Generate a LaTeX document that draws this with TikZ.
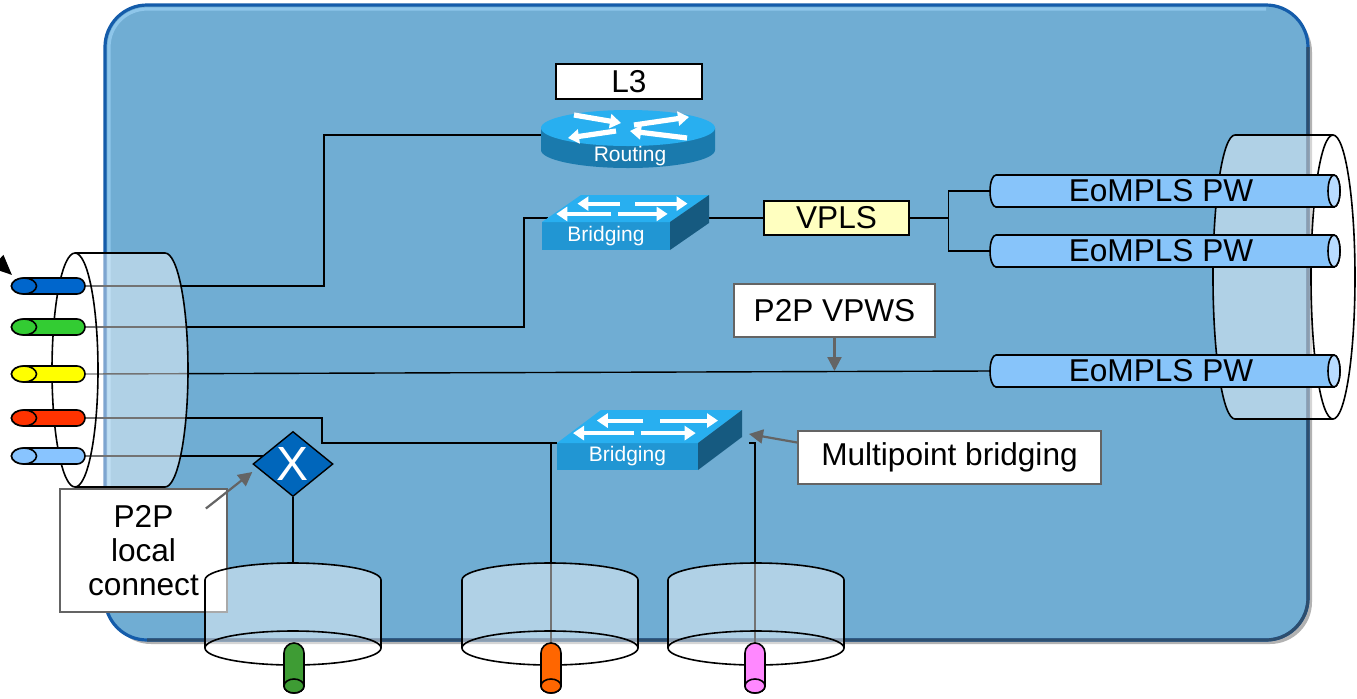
\documentclass[tikz,border=0pt]{standalone}
\usepackage{fontspec}
\setmainfont{Liberation Sans}
\usetikzlibrary{positioning, arrows.meta, shapes.geometric}

\definecolor{panel}{RGB}{112,173,211}
\definecolor{panelrim}{RGB}{20,92,170}
\definecolor{panelshade}{RGB}{45,78,110}
\definecolor{panelglow}{RGB}{150,205,240}
\definecolor{icontop}{RGB}{40,175,240}
\definecolor{iconfront}{RGB}{33,150,211}
\definecolor{iconside}{RGB}{22,90,128}
\definecolor{routerside}{RGB}{26,122,173}
\definecolor{pwblue}{RGB}{135,196,250}
\definecolor{pwcap}{RGB}{185,220,255}
\definecolor{vplsfill}{RGB}{255,255,192}
\definecolor{notegray}{RGB}{100,100,100}
\definecolor{xcfill}{RGB}{0,102,187}
\definecolor{portblue}{RGB}{0,102,204}
\definecolor{portgreen}{RGB}{51,204,51}
\definecolor{portyellow}{RGB}{255,255,0}
\definecolor{portred}{RGB}{255,51,0}
\definecolor{portlight}{RGB}{136,196,255}
\definecolor{dropgreen}{RGB}{62,156,52}
\definecolor{droporange}{RGB}{255,102,0}
\definecolor{droppink}{RGB}{255,136,255}

\pgfdeclarelayer{back}
\pgfdeclarelayer{wires}
\pgfdeclarelayer{glass}
\pgfsetlayers{back,wires,glass,main}

\tikzset{
	wire/.style={line width=0.7pt, draw=black},
	glass/.style={fill=white, fill opacity=0.45},
	rim/.style={draw=black, line width=0.8pt},
	tube/.style={draw=black, line width=0.8pt},
	labelbox/.style={
		rectangle,
		draw=black,
		line width=0.7pt,
		inner sep=0pt,
		align=center,
		font=\fontsize{15.8}{17}\selectfont
	},
	note/.style={
		labelbox,
		draw=notegray,
		line width=0.9pt,
		fill=white
	},
	pointer/.style={draw=notegray, line width=1.1pt, -{Triangle[length=7pt, width=7pt]}},
	iconlabel/.style={text=white, inner sep=0pt, font=\fontsize{10.5}{12}\selectfont},
	flowarrow/.style={draw=white, line width=2pt, -{Triangle[length=5.5pt, width=7pt]}},
	xconnect/.style={
		diamond,
		draw=black,
		line width=0.7pt,
		fill=xcfill,
		text=white,
		minimum width=40pt,
		minimum height=29pt,
		inner sep=0pt,
		font=\fontsize{24}{24}\selectfont
	}
}

\newcommand{\portpipe}[3]{% name, y, colour
	\draw[tube, fill=#3] (24,#2-8) -- (77,#2-8) arc[start angle=-90, end angle=90, radius=8]
		-- (24,#2+8) arc[start angle=90, end angle=270, x radius=12.5, y radius=8] -- cycle;
	\draw[tube, fill=#3] (24,#2) ellipse[x radius=12.5, y radius=8];
	\coordinate (#1-w) at (12,#2);
	\coordinate (#1-e) at (85,#2)
}
\newcommand{\pwpipe}[2]{% name, y
	\draw[tube, fill=pwblue] (996,#2-16) -- (1334,#2-16) arc[start angle=-90, end angle=90, x radius=6, y radius=16]
		-- (996,#2+16) arc[start angle=90, end angle=270, x radius=6, y radius=16] -- cycle;
	\draw[tube, fill=pwcap] (1334,#2) ellipse[x radius=6, y radius=16];
	\node[font=\fontsize{15.8}{17}\selectfont, inner sep=0pt] (#1) at (1161,#2) {EoMPLS PW};
	\coordinate (#1-w) at (990,#2)
}
\newcommand{\droppipe}[3]{% name, x, colour
	\draw[tube, fill=#3] (#2-10,686) -- (#2-10,653) arc[start angle=180, end angle=360, radius=10]
		-- (#2+10,686) arc[start angle=0, end angle=180, x radius=10, y radius=7] -- cycle;
	\draw[tube, fill=#3] (#2,686) ellipse[x radius=10, y radius=7];
	\coordinate (#1) at (#2,643)
}
\newcommand{\drum}[2]{% name, x centre
	\begin{pgfonlayer}{glass}
		\fill[glass] (#2-88,580) arc[start angle=180, end angle=360, x radius=88, y radius=17]
			-- (#2+88,648) arc[start angle=0, end angle=180, x radius=88, y radius=17] -- cycle;
		\draw[rim] (#2-88,648) -- (#2-88,580) arc[start angle=180, end angle=360, x radius=88, y radius=17] -- (#2+88,648);
		\draw[rim] (#2,648) ellipse[x radius=88, y radius=17];
	\end{pgfonlayer}
	\coordinate (#1) at (#2,563)
}
\newcommand{\switchicon}[7]{% name, front corner x, y, width, height, depth x, depth y
	\fill[iconfront] (#2,#3) rectangle ++(#4,#5);
	\fill[icontop] (#2,#3) -- ++(#4,0) -- ++(#6,-#7) -- ++(-#4,0) -- cycle;
	\fill[iconside] (#2+#4,#3) -- ++(#6,-#7) -- ++(0,#5) -- ++(-#6,#7) -- cycle;
	\foreach \ua/\ub/\v in {0.40/0.07/0.68, 0.52/0.93/0.68, 0.45/0.02/0.30, 0.50/0.89/0.30}
		\draw[flowarrow] (#2+\ua*#4+\v*#6, #3-\v*#7) -- (#2+\ub*#4+\v*#6, #3-\v*#7);
	\node[iconlabel] (#1) at (#2+#4/2, #3+#5/2) {Bridging}
}

\begin{document}
\begin{tikzpicture}[x=0.5pt, y=-0.5pt]
	\useasboundingbox (0,0) rectangle (1357,698);

	% the box itself
	\begin{pgfonlayer}{back}
		\fill[black, opacity=0.3, rounded corners=21pt] (109,10) rectangle (1312,644);
		\draw[panelrim, fill=panel, line width=1.6pt, rounded corners=21pt] (105,5) rectangle (1308,640);
		\draw[panelshade, line width=1.6pt] (1308,47) -- (1308,598) arc[start angle=0, end angle=90, radius=42] -- (147,640);
		\draw[panelglow, line width=1.6pt, opacity=0.8] (109,600) -- (109,47) arc[start angle=180, end angle=270, radius=38] -- (1266,9);
		\node[note, minimum width=83.5pt, minimum height=61.5pt] (lconn) at (143.5,550.5) {P2P\\local\\connect};
	\end{pgfonlayer}

	% trunks left and right
	\begin{pgfonlayer}{glass}
		\fill[glass] (75,253) -- (165,253) arc[start angle=-90, end angle=90, x radius=23, y radius=117]
			-- (75,487) arc[start angle=90, end angle=270, x radius=23, y radius=117] -- cycle;
		\draw[rim] (75,370) ellipse[x radius=23, y radius=117];
		\draw[rim] (75,253) -- (165,253) arc[start angle=-90, end angle=90, x radius=23, y radius=117] -- (75,487);
		\fill[glass] (1235,135) -- (1333,135) arc[start angle=-90, end angle=90, x radius=22, y radius=142]
			-- (1235,419) arc[start angle=90, end angle=270, x radius=22, y radius=142] -- cycle;
		\draw[rim] (1333,135) -- (1235,135) arc[start angle=270, end angle=90, x radius=22, y radius=142] -- (1333,419);
		\draw[rim] (1333,277) ellipse[x radius=22, y radius=142];
	\end{pgfonlayer}

	\portpipe{pblue}{286}{portblue};
	\portpipe{pgreen}{327}{portgreen};
	\portpipe{pyellow}{374}{portyellow};
	\portpipe{pred}{418}{portred};
	\portpipe{plight}{456}{portlight};

	\drum{drumA}{293};
	\drum{drumB}{550};
	\drum{drumC}{756};
	\droppipe{pgreenb}{294}{dropgreen};
	\droppipe{porange}{551}{droporange};
	\droppipe{ppink}{755}{droppink};

	% router
	\fill[routerside] (541,128) -- (541,150) arc[start angle=180, end angle=0, x radius=87, y radius=18] -- (715,128) -- cycle;
	\fill[icontop] (628,128) ellipse[x radius=87, y radius=18];
	\draw[flowarrow, line width=2.6pt] (574,115) -- (621,123);
	\draw[flowarrow, line width=2.6pt] (634,125) -- (689,117);
	\draw[flowarrow, line width=2.6pt] (616,131) -- (568,138);
	\draw[flowarrow, line width=2.6pt] (687,138) -- (630,131);
	\node[iconlabel] (router) at (630,156) {Routing};
	\coordinate (router-w) at (541,135);

	\switchicon{sw1}{542}{222}{128}{28}{39}{27};
	\switchicon{sw2}{557}{443}{141}{27}{44}{33};
	\coordinate (sw1-w) at (548,218);
	\coordinate (sw1-e) at (709,218);
	\coordinate (sw2-w) at (557,443);
	\coordinate (sw2-e) at (749,443);

	\node[labelbox, fill=white, minimum width=73pt, minimum height=17.5pt] (l3) at (629,81.5) {L3};
	\node[labelbox, fill=vplsfill, minimum width=72.5pt, minimum height=17pt] (vpls) at (836.5,218) {VPLS};
	\node[note, minimum width=100.5pt, minimum height=26.5pt] (vpws) at (834.5,310.5) {P2P VPWS};
	\node[note, minimum width=151.5pt, minimum height=26.5pt] (mpbr) at (949.5,457.5) {Multipoint bridging};
	\node[xconnect] (xc) at (293,464) {X};

	\pwpipe{pw1}{191};
	\pwpipe{pw2}{251};
	\pwpipe{pw3}{371};

	\begin{pgfonlayer}{wires}
		\draw[wire] (pblue-e) -- ++(239,0) |- (router-w);
		\draw[wire] (pgreen-e) -- ++(439,0) |- (sw1-w);
		\draw[wire] (pyellow-e) -- (pw3-w);
		\draw[wire] (pred-e) -- ++(237,0) |- (sw2-w);
		\draw[wire] (plight-e) -- (plight-e -| xc.center);
		\draw[wire] (xc.south) -- (drumA);
		\draw[wire] (porange) -- (porange |- sw2-w);
		\draw[wire] (ppink) |- (sw2-e);
		\draw[wire] (sw1-e) -- (vpls.west);
		\draw[wire] (vpls.east) -- ++(39,0) coordinate (fork);
		\draw[wire] (pw1-w) -| (fork) |- (pw2-w);
	\end{pgfonlayer}

	\draw[pointer] (vpws.south) -- (vpws.south |- pw3-w);
	\draw[pointer] ([yshift=7.5pt]mpbr.west) -- ([yshift=4.5pt]sw2-e);
	\draw[pointer] ([xshift=-11pt, yshift=21pt]lconn.east) -- ([yshift=-4pt]xc.west);
	\coordinate (feed) at (-18,247);
	\draw[line width=1.4pt, -{Triangle[length=10pt, width=8.5pt]}] (feed) -- ([yshift=5.5pt]pblue-w);
\end{tikzpicture}
\end{document}
